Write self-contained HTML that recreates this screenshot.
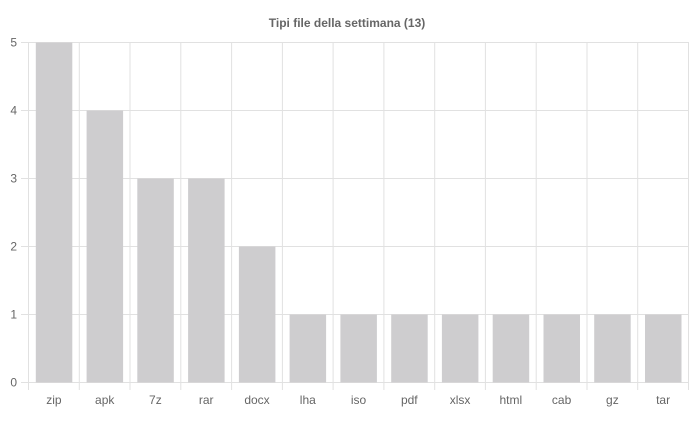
<!DOCTYPE html>
<html><head><meta charset="utf-8"><style>html,body{margin:0;padding:0;background:#fff}svg{display:block}</style></head><body>
<svg width="693" height="421" xmlns="http://www.w3.org/2000/svg" font-family="Liberation Sans, sans-serif">
<text x="347" y="27" text-anchor="middle" font-size="12" font-weight="bold" fill="#666">Tipi file della settimana (13)</text>
<g stroke="#e1e1e1" stroke-width="1">
<line x1="21" y1="42.5" x2="688" y2="42.5"/>
<line x1="21" y1="110.5" x2="688" y2="110.5"/>
<line x1="21" y1="178.5" x2="688" y2="178.5"/>
<line x1="21" y1="246.5" x2="688" y2="246.5"/>
<line x1="21" y1="314.5" x2="688" y2="314.5"/>
<line x1="21" y1="382.5" x2="688" y2="382.5"/>
<line x1="28.5" y1="42" x2="28.5" y2="390"/>
<line x1="79.3" y1="42" x2="79.3" y2="390"/>
<line x1="130.0" y1="42" x2="130.0" y2="390"/>
<line x1="180.8" y1="42" x2="180.8" y2="390"/>
<line x1="231.6" y1="42" x2="231.6" y2="390"/>
<line x1="282.4" y1="42" x2="282.4" y2="390"/>
<line x1="333.1" y1="42" x2="333.1" y2="390"/>
<line x1="383.9" y1="42" x2="383.9" y2="390"/>
<line x1="434.7" y1="42" x2="434.7" y2="390"/>
<line x1="485.4" y1="42" x2="485.4" y2="390"/>
<line x1="536.2" y1="42" x2="536.2" y2="390"/>
<line x1="587.0" y1="42" x2="587.0" y2="390"/>
<line x1="637.7" y1="42" x2="637.7" y2="390"/>
<line x1="688.5" y1="42" x2="688.5" y2="390"/>
</g>
<g fill="#cecdcf">
<rect x="35.8" y="42.5" width="36.5" height="340"/>
<rect x="86.6" y="110.5" width="36.5" height="272"/>
<rect x="137.3" y="178.5" width="36.5" height="204"/>
<rect x="188.1" y="178.5" width="36.5" height="204"/>
<rect x="238.9" y="246.5" width="36.5" height="136"/>
<rect x="289.6" y="314.5" width="36.5" height="68"/>
<rect x="340.4" y="314.5" width="36.5" height="68"/>
<rect x="391.2" y="314.5" width="36.5" height="68"/>
<rect x="441.9" y="314.5" width="36.5" height="68"/>
<rect x="492.7" y="314.5" width="36.5" height="68"/>
<rect x="543.5" y="314.5" width="36.5" height="68"/>
<rect x="594.2" y="314.5" width="36.5" height="68"/>
<rect x="645.0" y="314.5" width="36.5" height="68"/>
</g>
<g font-size="12" fill="#666" text-anchor="end">
<text x="17" y="46.5">5</text><text x="17" y="114.5">4</text><text x="17" y="182.5">3</text>
<text x="17" y="250.5">2</text><text x="17" y="318.5">1</text><text x="17" y="386.5">0</text>
</g>
<g font-size="12" fill="#666" text-anchor="middle">
<text x="53.9" y="404">zip</text><text x="104.7" y="404">apk</text><text x="155.4" y="404">7z</text>
<text x="206.2" y="404">rar</text><text x="257.0" y="404">docx</text><text x="307.8" y="404">lha</text>
<text x="358.5" y="404">iso</text><text x="409.3" y="404">pdf</text><text x="460.1" y="404">xlsx</text>
<text x="510.8" y="404">html</text><text x="561.6" y="404">cab</text><text x="612.4" y="404">gz</text>
<text x="663.1" y="404">tar</text>
</g>
</svg>
</body></html>
